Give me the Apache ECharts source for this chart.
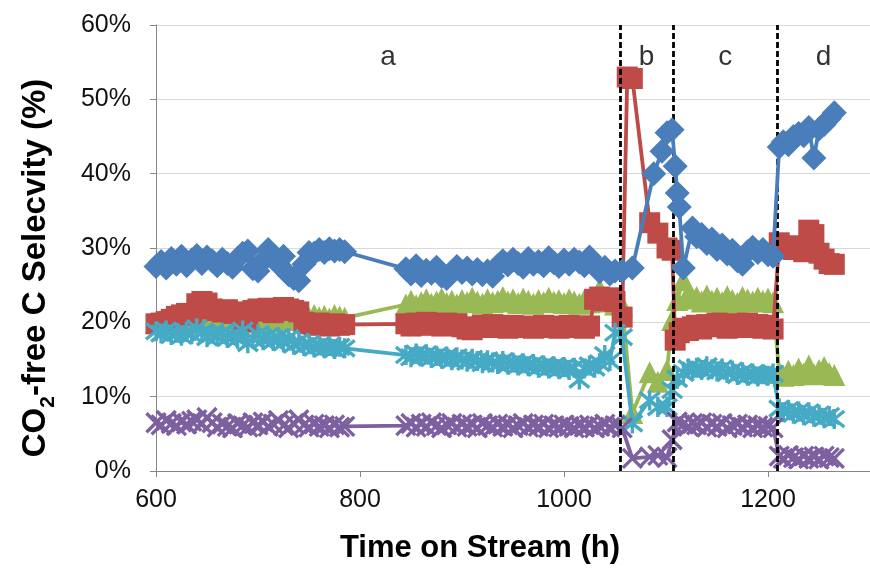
<!DOCTYPE html>
<html>
<head>
<meta charset="utf-8">
<script src="https://cdn.jsdelivr.net/npm/echarts@6/dist/echarts.min.js"></script>
<style>
  html, body { margin: 0; padding: 0; background: #ffffff; }
  #chart { width: 870px; height: 572px; }
</style>
</head>
<body>
<div id="chart"></div>
<script>
// Time on stream (h) at each sample
const hours = [
  600,605,610,615,620,625,630,635,640,645,650,655,660,665,670,675,680,685,690,695,
  700,705,710,715,720,725,730,735,740,745,750,755,760,765,770,775,780,785,
  845,850,855,860,865,870,875,880,885,890,895,900,905,910,915,920,925,930,935,940,
  945,950,955,960,965,970,975,980,985,990,995,1000,1005,1010,1015,1020,1025,1030,1035,1040,1045,1050,
  1057,1062,1067,1084,1088,1092,1096,1101,1106,1109,1111,1113,1117,1122,1126,
  1130,1135,1140,1145,1150,1155,1160,1165,1170,1175,1180,1185,1190,1195,1200,1205,
  1211,1215,1220,1225,1230,1235,1240,1245,1250,1255,1260,1265
];

// CO2-free carbon selectivity (%) per product, aligned with hours (null = no sample)
const blueValues = [
  27.5,28.2,27.3,28.6,27.8,28.9,27.6,28.4,29.0,27.9,28.8,28.3,27.6,28.5,27.9,27.4,28.6,29.3,29.6,27.2,
  26.9,28.3,29.8,28.6,27.8,28.9,26.4,25.9,25.6,27.8,29.4,29.3,29.8,29.4,29.9,29.6,29.8,29.5,
  27.2,26.5,27.6,26.3,27.0,26.6,27.4,26.2,25.9,26.8,27.5,26.7,27.3,26.5,27.1,26.4,26.9,26.2,27.6,28.3,
  27.7,28.5,27.9,27.4,28.6,27.8,28.2,27.6,28.7,28.0,27.5,28.4,27.8,28.5,28.1,27.6,28.8,27.9,26.8,27.4,26.5,26.9,
  26.9,null,27.3,null,40.0,null,43.0,45.5,45.9,41.0,37.4,35.5,27.3,null,32.7,
  31.5,31.8,30.6,31.2,29.8,30.4,29.2,29.7,28.3,27.8,29.5,30.1,29.4,29.8,29.1,28.9,
  43.6,44.3,43.9,45.0,45.4,45.1,46.2,42.1,46.0,46.6,47.4,48.2
];
const redValues = [
  19.8,19.9,20.1,20.4,20.8,21.0,21.2,21.0,22.5,22.8,22.6,21.8,21.6,21.4,21.7,21.2,21.4,20.3,20.1,21.6,
  21.8,21.5,21.9,21.3,21.7,22.0,21.8,21.6,21.4,20.0,19.8,19.6,19.9,19.7,19.5,19.8,19.6,19.7,
  19.8,19.5,19.9,19.6,20.0,19.7,19.8,19.5,19.9,19.6,19.8,19.4,19.1,19.0,19.3,19.6,19.4,19.7,19.3,19.5,
  19.2,19.6,19.4,19.3,19.5,19.2,19.4,19.6,19.3,19.5,19.2,19.4,19.6,19.3,19.5,19.2,19.5,23.1,23.4,22.9,23.3,22.8,
  20.7,53.0,52.8,33.4,null,32.0,null,30.0,29.7,17.6,null,18.6,19.2,18.9,19.4,
  19.6,19.1,19.7,19.4,19.9,19.5,19.2,19.8,19.6,19.3,19.9,19.5,19.7,19.2,19.6,19.1,
  30.7,30.2,30.0,29.8,30.3,29.5,32.4,31.8,29.3,28.5,27.9,27.8
];
const greenValues = [
  19.9,20.2,19.8,20.4,20.1,20.6,20.0,20.3,20.7,20.2,20.5,19.9,20.4,20.1,20.6,20.2,19.8,20.3,20.0,20.5,
  20.2,20.7,20.1,20.4,20.8,20.3,20.6,21.2,20.4,20.9,20.6,21.0,20.7,20.9,20.5,21.0,20.8,20.6,
  22.4,22.9,22.3,22.7,23.1,22.5,22.8,23.2,22.6,22.9,22.4,23.0,22.7,23.3,22.8,22.5,23.1,22.7,22.9,23.4,
  22.8,23.1,22.6,23.2,22.9,22.5,23.0,22.7,23.3,22.8,23.0,22.6,23.1,22.8,22.5,23.0,22.7,22.9,24.5,23.2,22.8,22.4,
  22.3,null,7.8,13.3,null,12.0,null,13.6,20.3,null,23.0,null,25.7,24.0,23.2,
  23.4,22.8,23.6,22.9,23.3,22.7,23.5,23.0,22.6,23.4,23.1,22.8,23.3,22.9,23.2,22.7,
  13.2,12.8,13.5,12.9,13.8,13.1,14.2,13.0,13.6,14.0,13.2,12.9
];
const purpleValues = [
  6.5,6.2,6.8,6.4,6.1,6.6,6.3,6.7,6.9,6.4,7.2,6.5,5.9,6.3,6.0,5.8,6.4,6.1,5.9,6.5,
  6.2,6.6,6.0,6.3,6.8,6.1,5.8,6.4,6.9,6.2,5.9,6.3,6.0,6.1,5.8,6.2,5.9,6.0,
  6.1,6.4,5.9,6.3,6.0,6.5,6.1,5.8,6.2,6.4,5.9,6.3,6.0,6.2,5.8,6.4,6.1,5.9,6.3,6.0,
  6.2,5.8,6.1,6.4,5.9,6.2,6.0,6.3,5.8,6.1,5.9,6.2,6.0,5.8,6.1,5.9,6.2,5.8,6.0,6.3,5.9,6.1,
  5.8,null,1.7,1.9,null,2.1,null,1.8,4.2,null,6.6,null,6.3,6.0,6.4,
  6.2,6.5,5.9,6.3,6.0,6.4,5.8,6.1,6.3,5.9,6.2,5.8,6.1,5.9,6.0,5.8,
  2.0,1.7,2.1,1.8,1.6,2.0,1.7,1.9,1.6,2.0,1.8,1.7
];
const tealValues = [
  18.8,18.5,18.9,18.3,18.6,18.2,18.7,18.4,19.2,18.6,18.0,18.5,18.1,18.6,17.9,18.3,17.8,18.9,17.2,17.8,
  18.4,17.6,18.2,17.5,18.0,17.3,17.9,17.0,17.4,16.8,17.1,16.6,16.9,16.5,16.8,16.4,16.7,16.5,
  15.6,15.3,15.8,15.4,15.7,15.2,15.5,15.1,15.4,14.9,15.3,15.0,14.7,15.1,14.8,14.5,14.9,14.6,14.4,14.8,
  14.3,14.6,14.2,14.5,14.1,14.4,13.9,14.2,13.8,14.1,13.7,14.0,13.6,13.9,12.3,13.8,14.2,13.9,14.5,15.6,14.8,18.6,
  18.0,null,6.4,9.5,null,8.6,null,8.6,10.9,null,12.4,null,13.2,13.8,13.5,
  13.9,13.6,14.1,13.7,13.4,13.8,13.2,13.5,12.9,13.3,12.8,13.1,12.7,13.0,12.8,13.1,
  8.4,7.9,8.2,7.7,8.0,7.5,7.9,7.3,7.6,7.1,7.4,7.0
];

// Operating periods: boundaries (h) and their labels
const periodBounds = [1055, 1107, 1209];
const periodNames = ['a', 'b', 'c', 'd'];

const FONT = '"Liberation Sans", Arial, sans-serif';
const X_MIN = 600, X_MAX = 1300;

function pairs(values) {
  const out = [];
  hours.forEach((h, i) => { if (values[i] != null) out.push([h, values[i]]); });
  return out;
}

const xMark = 'path://M1,1L9,9M9,1L1,9';
const starMark = 'path://M1,1L9,9M9,1L1,9M5,0L5,10';

function lineSeries(values, color, symbol, size, z, stroked) {
  return {
    type: 'line',
    data: pairs(values),
    z: z,
    symbol: symbol,
    symbolSize: size,
    showAllSymbol: true,
    lineStyle: { color: color, width: 3.8 },
    itemStyle: stroked
      ? { color: color, borderColor: color, borderWidth: 3.4 }
      : { color: color, borderWidth: 0 },
    emphasis: { disabled: true },
    animation: false
  };
}

// Period labels sit at the middle of each period
const edges = [X_MIN].concat(periodBounds, [X_MAX]);
const labelPoints = periodNames.map((n, i) => ({ value: [(edges[i] + edges[i + 1]) / 2, 55.7], name: n }));

const option = {
  backgroundColor: '#ffffff',
  animation: false,
  grid: { left: 156, top: 25, bottom: 101, right: -7, containLabel: false },
  xAxis: {
    type: 'value',
    min: X_MIN, max: X_MAX, interval: 200,
    axisLine: { show: true, lineStyle: { color: '#868686', width: 1 } },
    axisTick: { show: true, length: 6, lineStyle: { color: '#868686' } },
    splitLine: { show: false },
    axisLabel: { fontFamily: FONT, fontSize: 25, color: '#111', margin: 17, showMaxLabel: false, formatter: v => String(v) },
    name: 'Time on Stream (h)',
    nameLocation: 'middle',
    nameGap: 62,
    nameTextStyle: { fontFamily: FONT, fontSize: 31, fontWeight: 'bold', color: '#000', padding: [0, 66, 0, 0] }
  },
  yAxis: {
    type: 'value',
    min: 0, max: 60, interval: 10,
    axisLine: { show: true, lineStyle: { color: '#868686', width: 1 } },
    axisTick: { show: true, length: 6, lineStyle: { color: '#868686' } },
    splitLine: { show: true, lineStyle: { color: '#d9d9d9', width: 1 } },
    axisLabel: { fontFamily: FONT, fontSize: 25, color: '#111', margin: 25, formatter: '{value}%' },
    name: '{t|CO}{s|2}{t|-free C Selecvity (%)}',
    nameLocation: 'middle',
    nameRotate: 90,
    nameGap: 104,
    nameTextStyle: {
      padding: [0, 40, 0, 0],
      rich: {
        t: { fontFamily: FONT, fontSize: 33, fontWeight: 'bold', color: '#000', lineHeight: 38, verticalAlign: 'bottom' },
        s: { fontFamily: FONT, fontSize: 21, fontWeight: 'bold', color: '#000', lineHeight: 38, verticalAlign: 'bottom', padding: [0, 0, -7, 0] }
      }
    }
  },
  series: [
    lineSeries(greenValues, '#98b954', 'triangle', 22, 2, false),
    lineSeries(redValues, '#be4b48', 'rect', 21, 3, false),
    lineSeries(tealValues, '#46aac5', starMark, 20, 4, true),
    lineSeries(purpleValues, '#7d60a0', xMark, 19, 4, true),
    lineSeries(blueValues, '#4a7ebb', 'diamond', 25, 5, false),
    {
      type: 'scatter',
      z: 10,
      data: labelPoints,
      symbolSize: 0,
      label: {
        show: true,
        position: 'inside',
        formatter: p => p.name,
        fontFamily: FONT, fontSize: 28, color: '#000'
      },
      markLine: {
        silent: true,
        symbol: ['none', 'none'],
        label: { show: false },
        lineStyle: { color: '#000', width: 2.8, type: [6, 3] },
        data: periodBounds.map(b => ({ xAxis: b }))
      },
      animation: false
    }
  ]
};

const chart = echarts.init(document.getElementById('chart'), null, { renderer: 'canvas' });
chart.setOption(option);
</script>
</body>
</html>
